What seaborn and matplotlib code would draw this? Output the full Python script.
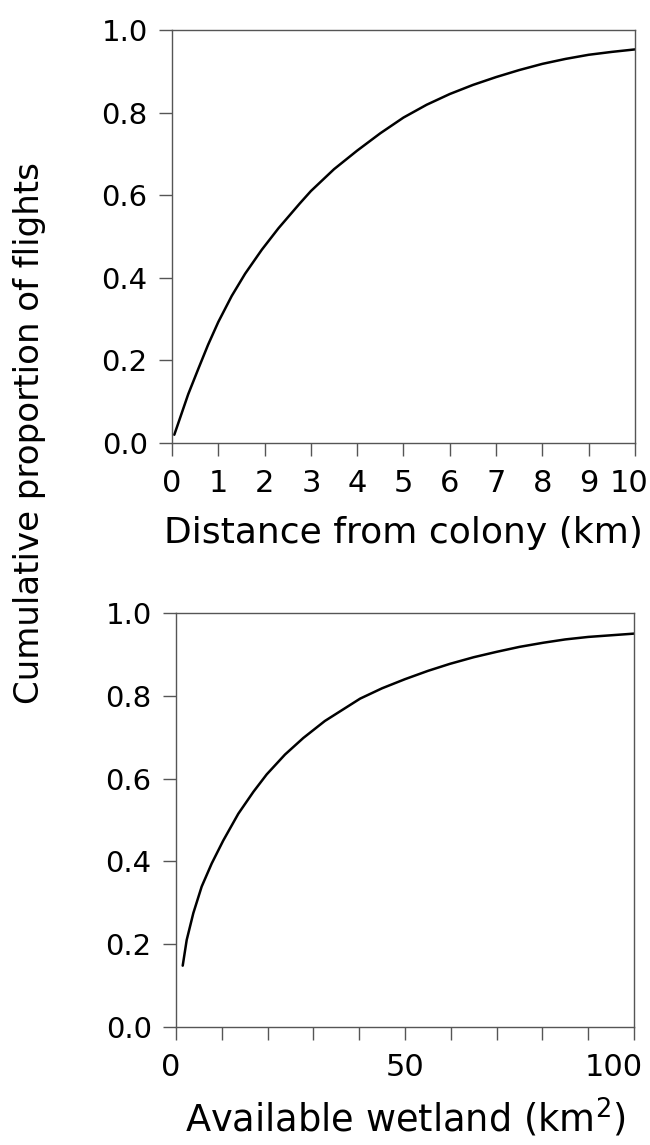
import numpy as np
import pandas as pd
import seaborn as sns
import matplotlib.pyplot as plt
from matplotlib.ticker import MultipleLocator, FormatStrFormatter
from matplotlib.transforms import ScaledTranslation

# values
dist_km = [0.05, 0.35, 0.57, 0.78, 1.0, 1.29, 1.58, 1.94, 2.3, 2.76, 3.0, 3.5, 4.0,
           4.5, 5.0, 5.5, 6.0, 6.5, 7.0, 7.5, 8.0, 8.5, 9.0, 9.5, 10.0]
dist_prop = [0.02, 0.118, 0.18, 0.238, 0.293, 0.356, 0.41, 0.468, 0.52, 0.58, 0.61,
             0.663, 0.708, 0.75, 0.788, 0.819, 0.845, 0.867, 0.886, 0.903, 0.918, 0.93,
             0.94, 0.947, 0.953]

wet_km2 = [1.46, 2.33, 3.78, 5.6, 7.8, 10.3, 13.6, 16.9, 19.8, 23.8, 27.8, 32.5, 40.2,
           45.0, 50.0, 55.0, 59.8, 65.0, 70.0, 75.0, 80.2, 85.0, 90.0, 95.0, 100.0]
wet_prop = [0.148, 0.21, 0.275, 0.339, 0.395, 0.45, 0.515, 0.568, 0.61, 0.658, 0.698,
            0.739, 0.793, 0.818, 0.84, 0.86, 0.877, 0.893, 0.906, 0.918, 0.928, 0.936,
            0.942, 0.946, 0.95]

y_ticks = [0.0, 0.2, 0.4, 0.6, 0.8, 1.0]

df_dist = pd.DataFrame({'x': dist_km, 'y': dist_prop})
df_wet = pd.DataFrame({'x': wet_km2, 'y': wet_prop})

sns.set_style('ticks')
plt.rcParams['font.family'] = ['DejaVu Sans']
plt.rcParams['text.color'] = 'black'
plt.rcParams['axes.labelcolor'] = 'black'
plt.rcParams['xtick.labelcolor'] = 'black'
plt.rcParams['ytick.labelcolor'] = 'black'

fig = plt.figure(figsize=(6.5, 11.45), dpi=100)
ax1 = fig.add_axes([0.2646, 0.6131, 0.7123, 0.3607])
ax2 = fig.add_axes([0.2708, 0.1031, 0.7046, 0.3616])

sns.lineplot(data=df_dist, x='x', y='y', ax=ax1, color='black', linewidth=1.8)
sns.lineplot(data=df_wet, x='x', y='y', ax=ax2, color='black', linewidth=1.8)

for ax in (ax1, ax2):
    ax.set_ylim(0, 1)
    ax.set_yticks(y_ticks)
    ax.yaxis.set_major_formatter(FormatStrFormatter('%.1f'))
    for sp in ax.spines.values():
        sp.set_visible(True)
        sp.set_color('#555555')
        sp.set_linewidth(1.0)
    ax.tick_params(axis='both', which='both', direction='out', length=9.5,
                   width=1.0, color='#555555')
    ax.tick_params(axis='y', pad=8, labelsize=21)
    ax.tick_params(axis='x', pad=9, labelsize=22)
    ax.set_ylabel('')

ax1.set_xlim(0, 10)
ax1.set_xticks(range(0, 11))
ax1.set_xlabel('Distance from colony (km)', fontsize=26, labelpad=13)

ax2.set_xlim(0, 100)
ax2.set_xticks([0, 50, 100])
ax2.xaxis.set_minor_locator(MultipleLocator(10))
ax2.set_xlabel('Available wetland (km$^2$)', fontsize=26.5, labelpad=11)

# nudge the end tick labels inward, as in the reference
for ax, idx, dx in ((ax1, -1, -6), (ax2, -1, -20), (ax2, 0, -5)):
    lab = ax.xaxis.get_major_ticks()[idx].label1
    lab.set_transform(lab.get_transform() + ScaledTranslation(dx / 100, 0, fig.dpi_scale_trans))

fig.text(0.046, 0.622, 'Cumulative proportion of flights', rotation=90,
         fontsize=24.5, ha='center', va='center')

plt.savefig('out.png', dpi=100)
